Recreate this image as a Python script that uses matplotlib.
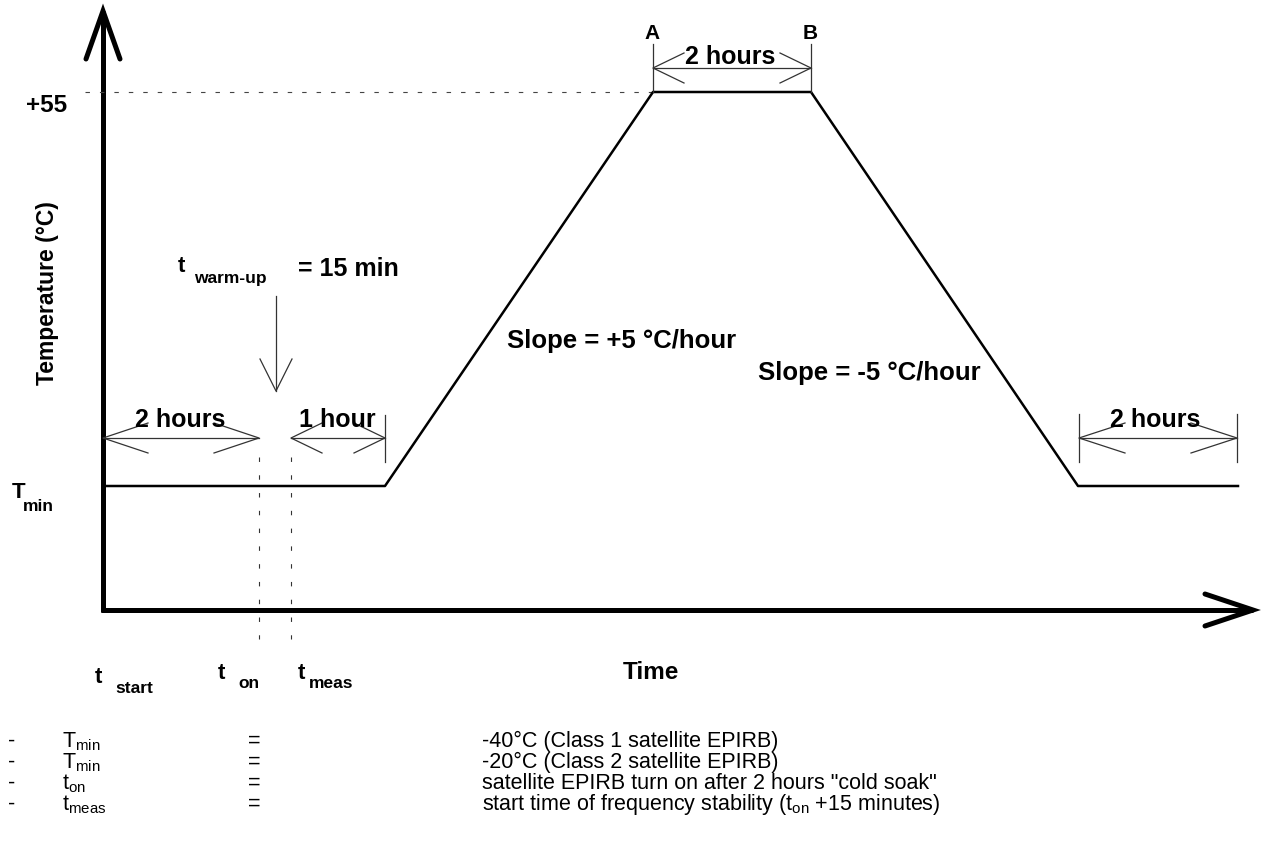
import matplotlib
matplotlib.use("Agg")
import matplotlib.pyplot as plt

plt.rcParams["font.family"] = ["Liberation Sans", "DejaVu Sans"]
plt.rcParams["mathtext.fontset"] = "custom"
plt.rcParams["mathtext.rm"] = "Liberation Sans"
plt.rcParams["mathtext.it"] = "Liberation Sans:italic"
plt.rcParams["mathtext.bf"] = "Liberation Sans:bold"

# schematic positions (diagram units, y grows downwards)
profile_x = [103, 385, 653, 811, 1078, 1238]
profile_y = [487, 487, 93, 93, 487, 487]
axis_origin = (103, 611)
y_axis_top = 12
x_axis_end = 1253
level_55_y = 93
t_on_x = 259
t_meas_x = 291

# dimension lines: (x_start, x_end, y, label, label_x, label_baseline, wing)
dimensions = [
    (103, 259, 439, "2 hours", 180, 427, 45),
    (291, 385, 439, "1 hour", 337, 427, 31),
    (653, 811, 69, "2 hours", 730, 64, 31),
    (1079, 1237, 439, "2 hours", 1155, 427, 46),
]
# extension ticks: (x, y_top, y_bottom)
ext_ticks = [(385, 416, 463), (653, 45, 93), (811, 45, 93),
             (1079, 415, 463), (1237, 415, 463)]

legend_syms = [r"T$_{\mathregular{min}}$", r"T$_{\mathregular{min}}$",
               r"t$_{\mathregular{on}}$", r"t$_{\mathregular{meas}}$"]
legend_desc = ["-40\u00b0C (Class 1 satellite EPIRB)",
               "-20\u00b0C (Class 2 satellite EPIRB)",
               "satellite EPIRB turn on after 2 hours \"cold soak\"",
               r"start time of frequency stability (t$_{\mathregular{on}}$ +15 minutes)"]
legend_rows = [747, 768, 789, 810]

fig = plt.figure(figsize=(12.63, 8.54), dpi=100)
ax = fig.add_axes([0, 0, 1, 1])
ax.set_xlim(0, 1263)
ax.set_ylim(854, 0)
ax.axis("off")

ox, oy = axis_origin
# axes with open arrow heads
ax.plot([ox, ox], [oy + 2, y_axis_top], color="black", lw=3.6, solid_capstyle="butt")
ax.plot([ox - 17, ox, ox + 17], [y_axis_top + 48, y_axis_top, y_axis_top + 48],
        color="black", lw=3.6, solid_capstyle="round", solid_joinstyle="miter")
ax.plot([ox - 2, x_axis_end], [oy, oy], color="black", lw=3.6, solid_capstyle="butt")
ax.plot([x_axis_end - 48, x_axis_end, x_axis_end - 48], [oy - 16, oy, oy + 16],
        color="black", lw=3.6, solid_capstyle="round", solid_joinstyle="miter")

# +55 reference line
ax.plot([85, profile_x[2]], [level_55_y, level_55_y], color="#444444", lw=0.8,
        dashes=(4, 9))

# temperature profile
ax.plot(profile_x, profile_y, color="black", lw=1.8)

# t_on / t_meas markers
for x in (t_on_x, t_meas_x):
    ax.plot([x, x], [458, 640], color="#333333", lw=0.8, dashes=(4, 12))

# dimension lines
dim_kw = dict(color="#333333", lw=0.9)
for x0, x1, y, label, lx, ly, wing in dimensions:
    ax.plot([x0, x1], [y, y], **dim_kw)
    ax.plot([x0 + wing, x0, x0 + wing], [y - 15, y, y + 15], **dim_kw)
    ax.plot([x1 - wing, x1, x1 - wing], [y - 15, y, y + 15], **dim_kw)
    ax.text(lx, ly, label, ha="center", va="baseline", fontsize=18,
            fontweight="bold")
for x, y0, y1 in ext_ticks:
    ax.plot([x, x], [y0, y1], **dim_kw)

# warm-up arrow
ax.plot([276, 276], [297, 392], color="#333333", lw=0.9)
ax.plot([260, 276, 292], [360, 392, 360], color="#333333", lw=0.9)

bold = dict(fontweight="bold", va="baseline")
ax.text(652, 39, "A", ha="center", fontsize=15, **bold)
ax.text(810, 39, "B", ha="center", fontsize=15, **bold)
ax.text(26, 112, "+55", ha="left", fontsize=17.5, **bold)
ax.text(48, 293, "Temperature (\u00b0C)", rotation=90, ha="center", va="center",
        fontsize=16.5, fontweight="bold")
ax.text(12, 498, "T", ha="left", fontsize=16, **bold)
ax.text(23, 511, "min", ha="left", fontsize=12.5, **bold)

ax.text(178, 272, "t", ha="left", fontsize=16, **bold)
ax.text(194, 283, "warm-up", ha="left", fontsize=12.5, **bold)
ax.text(298, 276, "= 15 min", ha="left", fontsize=18, **bold)

ax.text(507, 348, "Slope = +5 \u00b0C/hour", ha="left", fontsize=18.5, **bold)
ax.text(758, 380, "Slope = -5 \u00b0C/hour", ha="left", fontsize=18.5, **bold)
ax.text(651, 679, "Time", ha="center", fontsize=17.5, **bold)

ax.text(95, 683, "t", ha="left", fontsize=16, **bold)
ax.text(115, 693, "start", ha="left", fontsize=12.5, **bold)
ax.text(218, 679, "t", ha="left", fontsize=16, **bold)
ax.text(238, 688, "on", ha="left", fontsize=12.5, **bold)
ax.text(298, 679, "t", ha="left", fontsize=16, **bold)
ax.text(309, 688, "meas", ha="left", fontsize=12.5, **bold)

# legend rows
for sym, desc, y in zip(legend_syms, legend_desc, legend_rows):
    ax.text(8, y, "-", ha="left", va="baseline", fontsize=15.5)
    ax.text(62, y, sym, ha="left", va="baseline", fontsize=15.5)
    ax.text(248, y, "=", ha="left", va="baseline", fontsize=15.5)
    ax.text(482, y, desc, ha="left", va="baseline", fontsize=15.5)

fig.savefig("out.png", dpi=100)
